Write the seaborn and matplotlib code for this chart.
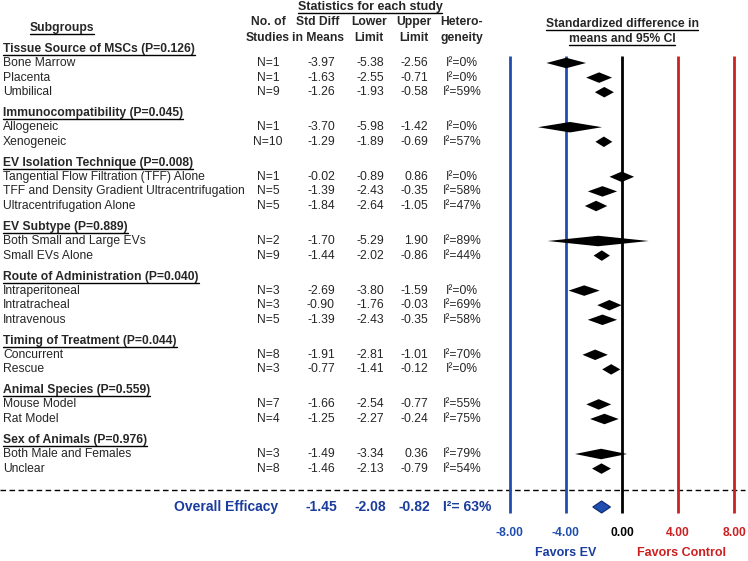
import matplotlib
matplotlib.use("Agg")
import matplotlib.pyplot as plt
from matplotlib.lines import Line2D
import seaborn as sns

# Subgroup data
groups = [
    "Tissue Source of MSCs (P=0.126)",
    "Immunocompatibility (P=0.045)",
    "EV Isolation Technique (P=0.008)",
    "EV Subtype (P=0.889)",
    "Route of Administration (P=0.040)",
    "Timing of Treatment (P=0.044)",
    "Animal Species (P=0.559)",
    "Sex of Animals (P=0.976)",
]
group_sizes = [3, 2, 3, 2, 3, 2, 2, 2]
subgroups = [
    "Bone Marrow", "Placenta", "Umbilical",
    "Allogeneic", "Xenogeneic",
    "Tangential Flow Filtration (TFF) Alone",
    "TFF and Density Gradient Ultracentrifugation",
    "Ultracentrifugation Alone",
    "Both Small and Large EVs", "Small EVs Alone",
    "Intraperitoneal", "Intratracheal", "Intravenous",
    "Concurrent", "Rescue",
    "Mouse Model", "Rat Model",
    "Both Male and Females", "Unclear",
]
n_studies = [1, 1, 9, 1, 10, 1, 5, 5, 2, 9, 3, 3, 5, 8, 3, 7, 4, 3, 8]
smd = [-3.97, -1.63, -1.26, -3.70, -1.29, -0.02, -1.39, -1.84, -1.70, -1.44,
       -2.69, -0.90, -1.39, -1.91, -0.77, -1.66, -1.25, -1.49, -1.46]
lower = [-5.38, -2.55, -1.93, -5.98, -1.89, -0.89, -2.43, -2.64, -5.29, -2.02,
         -3.80, -1.76, -2.43, -2.81, -1.41, -2.54, -2.27, -3.34, -2.13]
upper = [-2.56, -0.71, -0.58, -1.42, -0.69, 0.86, -0.35, -1.05, 1.90, -0.86,
         -1.59, -0.03, -0.35, -1.01, -0.12, -0.77, -0.24, 0.36, -0.79]
i2 = [0, 0, 59, 0, 57, 0, 58, 47, 89, 44, 0, 69, 58, 70, 0, 55, 75, 79, 54]

overall = {"smd": -1.45, "lower": -2.08, "upper": -0.82, "i2": 63}

ticks = [-8, -4, 0, 4, 8]

BLUE = "#1f4db0"
DARKBLUE = "#1a3c9c"
RED = "#cc2020"
tick_colors = [BLUE, BLUE, "black", RED, RED]

sns.set_style("white")
plt.rcParams["font.family"] = ["Liberation Sans", "DejaVu Sans"]

W, H = 748, 561
fig = plt.figure(figsize=(W / 100, H / 100), dpi=100)
bg = fig.add_axes([0, 0, 1, 1])
bg.set_xlim(0, W)
bg.set_ylim(H, 0)
bg.axis("off")

# forest panel: 0 at x=622px, 14.05 px per unit
px_unit = 14.05
x0 = 622 - 9 * px_unit
fa = fig.add_axes([x0 / W, 0, 18 * px_unit / W, 1])
fa.set_xlim(-9, 9)
fa.set_ylim(H, 0)
fa.axis("off")

FS = 8.7
underlined = []

# headers
underlined.append(bg.text(62, 28, "Subgroups", ha="center", va="center",
                          fontsize=FS, fontweight="bold"))
underlined.append(bg.text(370, 7, "Statistics for each study", ha="center",
                          va="center", fontsize=FS + 0.3, fontweight="bold"))
col_x = [268, 318, 369, 414, 462]
col_heads = ["No. of\nStudies", "Std Diff\nin Means", "Lower\nLimit",
             "Upper\nLimit", "Hetero-\ngeneity"]
for cx, head in zip(col_x, col_heads):
    bg.text(cx, 30, head, ha="center", va="center", fontsize=FS,
            fontweight="bold", linespacing=1.45)
underlined.append(fa.text(0, 24, "Standardized difference in",
                          ha="center", va="center", fontsize=FS, fontweight="bold"))
underlined.append(fa.text(0, 38.5, "means and 95% CI",
                          ha="center", va="center", fontsize=FS, fontweight="bold"))

# row layout
y = 49.0
k = 0
for g, size in zip(groups, group_sizes):
    underlined.append(bg.text(3, y, g, ha="left", va="center", fontsize=FS,
                              fontweight="bold"))
    y += 14
    for j in range(size):
        bg.text(3, y, subgroups[k], ha="left", va="center", fontsize=FS)
        bg.text(col_x[0], y, f"N={n_studies[k]}", ha="center", va="center", fontsize=FS)
        bg.text(335, y, f"{smd[k]:.2f}", ha="right", va="center", fontsize=FS)
        bg.text(384, y, f"{lower[k]:.2f}", ha="right", va="center", fontsize=FS)
        bg.text(428, y, f"{upper[k]:.2f}", ha="right", va="center", fontsize=FS)
        bg.text(col_x[4], y, f"I\u00b2={i2[k]}%", ha="center", va="center", fontsize=FS)
        h = 10.5
        fa.fill([lower[k], smd[k], upper[k], smd[k]], [y, y - h / 2, y, y + h / 2],
                color="black", lw=0, zorder=3)
        k += 1
        if j < size - 1:
            y += 14.6
    y += 21

# reference lines
fa.vlines(ticks, 56, 513, colors=tick_colors, lw=2.0, zorder=1)
for t, c in zip(ticks, tick_colors):
    fa.text(t, 533, f"{t:.2f}", ha="center", va="center", fontsize=FS,
            fontweight="bold", color=c)
fa.text(-4, 553, "Favors EV", ha="center", va="center", fontsize=FS + 0.3,
        fontweight="bold", color=DARKBLUE)
fa.text(4.2, 553, "Favors Control", ha="center", va="center", fontsize=FS + 0.3,
        fontweight="bold", color=RED)

# dashed separator
bg.plot([0, 745], [490, 490], color="black", lw=1, ls=(0, (4, 2.5)), zorder=2)

# overall row
oy = 507
bg.text(278, oy, "Overall Efficacy", ha="right", va="center", fontsize=10,
        fontweight="bold", color=DARKBLUE)
bg.text(337, oy, f"{overall['smd']:.2f}", ha="right", va="center", fontsize=10,
        fontweight="bold", color=DARKBLUE)
bg.text(386, oy, f"{overall['lower']:.2f}", ha="right", va="center", fontsize=10,
        fontweight="bold", color=DARKBLUE)
bg.text(430, oy, f"{overall['upper']:.2f}", ha="right", va="center", fontsize=10,
        fontweight="bold", color=DARKBLUE)
bg.text(443, oy, f"I\u00b2= {overall['i2']}%", ha="left", va="center", fontsize=10,
        fontweight="bold", color=DARKBLUE)
oh = 12
fa.fill([overall["lower"], overall["smd"], overall["upper"], overall["smd"]],
        [oy, oy - oh / 2, oy, oy + oh / 2], facecolor="#1f4db0",
        edgecolor="#0d2a70", lw=0.8, zorder=3)

# underline the bold headers
fig.canvas.draw()
renderer = fig.canvas.get_renderer()
inv = fig.transFigure.inverted()
for t in underlined:
    bb = t.get_window_extent(renderer)
    (xa, ya) = inv.transform((bb.x0, bb.y0))
    (xb, _) = inv.transform((bb.x1, bb.y0))
    fig.add_artist(Line2D([xa, xb], [ya, ya], transform=fig.transFigure,
                          color="black", lw=1.0))

fig.savefig("out.png", dpi=100)
